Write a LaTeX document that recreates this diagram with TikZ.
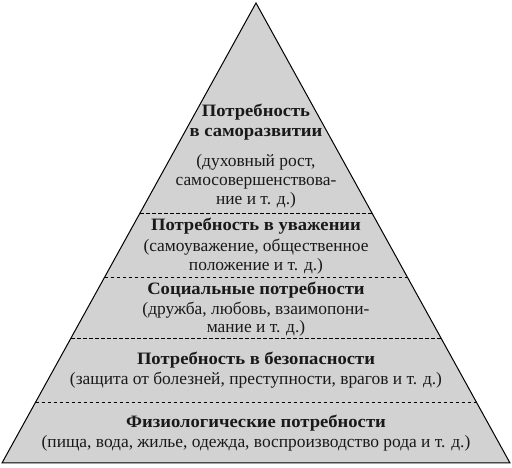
\documentclass[tikz,border=0pt]{standalone}
\usepackage{fontspec}
\setmainfont{Liberation Serif}
\newfontfamily\headfont[FakeStretch=1.07]{Liberation Serif}
\usetikzlibrary{calc}
\tikzset{
  level/.style={draw=black, line width=0.9pt, dash pattern=on 3.5pt off 2.5pt},
  head/.style={anchor=base, inner sep=0pt, font=\headfont\fontsize{17.4}{19}\selectfont\bfseries, text=black!90},
  desc/.style={anchor=base, inner sep=0pt, font=\fontsize{17.4}{19}\selectfont, text=black!90},
}
\begin{document}
\begin{tikzpicture}[x=1pt,y=1pt]
\useasboundingbox (0,0) rectangle (512,468);
\coordinate (A) at (256,465);
\coordinate (L) at (2,5);
\coordinate (R) at (510,5);
\fill[gray!35] (L) -- (A) -- (R) -- cycle;
% level separators
\foreach \n/\t in {a/0.5435, b/0.4043, c/0.2717, d/0.1326}{
  \coordinate (\n l) at ($(L)!\t!(A)$);
  \coordinate (\n r) at ($(R)!\t!(A)$);
  \draw[level] (\n l) -- (\n r);
}
\draw[line width=1pt, line join=miter] (L) -- (A) -- (R) -- cycle;
% texts (y = 468 - baseline in pixels)
\node[head] (h1a) at (256,351) {Потребность};
\node[head] (h1b) at (256,331) {в саморазвитии};
\node[desc] (d1a) at (256,301) {(духовный рост,};
\node[desc] (d1b) at (256,282) {самосовершенствова-};
\node[desc] (d1c) at (256,263) {ние и т. д.)};
\node[head] (h2) at (256,237) {Потребность в уважении};
\node[desc] (d2a) at (256,216) {(самоуважение, общественное};
\node[desc] (d2b) at (256,197) {положение и т. д.)};
\node[head] (h3) at (256,173) {Социальные потребности};
\node[desc] (d3a) at (256,153) {(дружба, любовь, взаимопони-};
\node[desc] (d3b) at (256,135) {мание и т. д.)};
\node[head] (h4) at (256,103) {Потребность в безопасности};
\node[desc] (d4) at (256,83) {(защита от болезней, преступности, врагов и т. д.)};
\node[head] (h5) at (256,40) {Физиологические потребности};
\node[desc] (d5) at (256,20) {(пища, вода, жилье, одежда, воспроизводство рода и т. д.)};
\end{tikzpicture}
\end{document}
